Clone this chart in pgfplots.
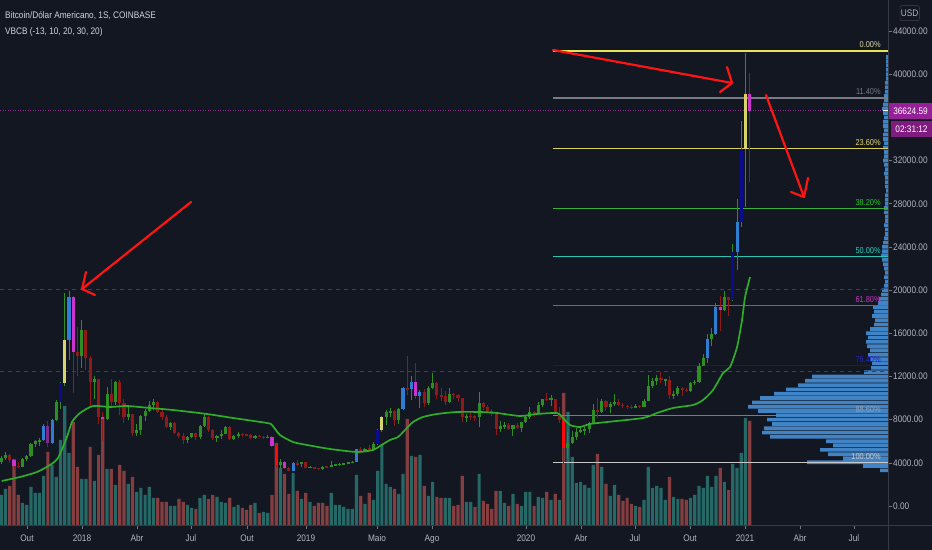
\documentclass[border=0pt]{standalone}
\usepackage{pgfplots}
\pgfplotsset{compat=1.18}
\usepackage{pgfplotstable}
\usepackage{fontspec}
\setmainfont{Liberation Sans}[FakeStretch=0.87]
\definecolor{bg}{HTML}{131722}
\definecolor{lbl}{HTML}{B2B5BE}
\definecolor{ttl}{HTML}{D1D4DC}
\definecolor{axln}{HTML}{363A45}
\definecolor{cgreen}{HTML}{2E8E24}
\definecolor{cred}{HTML}{901A1A}
\definecolor{cblue}{HTML}{2E7DD2}
\definecolor{cnavy}{HTML}{0B0B90}
\definecolor{cyellow}{HTML}{D8D36A}
\definecolor{cmag}{HTML}{CC33CC}
\definecolor{cbright}{HTML}{FF0A0A}
\definecolor{cpurple}{HTML}{7E2A8C}
\definecolor{volup}{HTML}{256866}
\definecolor{voldn}{HTML}{843E40}
\definecolor{magreen}{HTML}{2EAE28}
\definecolor{prof}{HTML}{4084C6}
\definecolor{pbox}{HTML}{962096}
\newcommand{\tf}{\fontsize{9.5bp}{11bp}\selectfont}
\newcommand{\ff}{\fontsize{8.5bp}{10bp}\selectfont}

\pgfplotstableread{
w O H L C k
-19 4050 4600 3900 4450 1
-18 4450 4980 4250 4700 1
-17 4700 4800 4000 4250 2
-16 4250 4400 3300 3720 6
-15 3720 4100 3500 3620 2
-14 3620 4450 3600 4350 1
-13 4350 4700 4150 4600 1
-12 4600 5850 4550 5700 1
-11 5700 6150 5450 5990 1
-10 5990 6300 5600 6140 1
-9 6140 7600 6050 7400 3
-8 7400 7900 5500 5880 8
-7 5880 8100 5700 8000 3
-6 8000 9800 7900 9600 1
-5 9600 11450 9000 11350 4
-4 11350 19700 11100 15400 5
-3 15400 19900 13500 19400 3
-2 19400 19450 10450 14250 6
-1 14250 16550 12000 13900 2
0 13900 17230 12800 16300 1
1 16300 16300 12600 13700 2
2 13700 13900 9200 11500 2
3 11500 12000 9950 11800 1
4 11800 11800 7600 8200 2
5 8200 8700 6000 8100 6
6 8100 11000 8000 10400 1
7 10400 11800 9300 9600 2
8 9600 11600 9400 11500 1
9 11500 11700 8400 9500 2
10 9500 9900 7700 8200 2
11 8200 9200 7950 8500 1
12 8500 8500 6500 6800 2
13 6800 7600 6450 7000 1
14 7000 8400 6600 8300 1
15 8300 9000 7900 8800 1
16 8800 9750 8700 9400 1
17 9400 9900 8900 9650 1
18 9650 9700 8600 8700 2
19 8700 8900 7950 8200 2
20 8200 8400 7250 7350 2
21 7350 7800 7050 7700 1
22 7700 7800 6650 6780 2
23 6780 6850 6300 6450 2
24 6450 6800 5750 6150 2
25 6150 6500 5800 6400 1
26 6400 6800 6300 6750 1
27 6750 6800 6100 6350 2
28 6350 7500 6250 7400 1
29 7400 8500 7300 8200 1
30 8200 8300 6900 7000 2
31 7000 7150 6100 6300 2
32 6300 6600 5900 6500 1
33 6500 7000 6200 6700 1
34 6700 7400 6650 7300 1
35 7300 7400 6100 6250 2
36 6250 6600 6150 6500 1
37 6500 6850 6300 6700 1
38 6700 6800 6400 6600 2
39 6600 6700 6450 6550 2
40 6550 6650 6200 6300 2
41 6300 6600 6250 6500 1
42 6500 6550 6350 6400 2
43 6400 6480 6250 6350 2
44 6350 6550 6300 6400 1
45 6400 6500 5500 5600 6
46 5600 5650 3600 3800 7
47 3800 4400 3550 4100 1
48 4100 4150 3450 3500 6
49 3500 3600 3200 3250 2
50 3250 4100 3200 4000 3
51 4000 4250 3700 3850 2
52 3850 4100 3650 4050 1
53 4050 4100 3500 3550 2
54 3550 3750 3520 3600 1
55 3600 3650 3450 3530 2
56 3530 3560 3350 3420 2
57 3420 3700 3380 3650 1
58 3650 3700 3550 3600 2
59 3600 4200 3600 3800 1
60 3800 3900 3700 3850 1
61 3850 3950 3700 3900 1
62 3900 4000 3850 3950 1
63 3950 4050 3900 4000 1
64 4000 4150 3950 4100 1
65 4100 5300 4050 5250 3
66 5250 5450 4950 5100 2
67 5100 5350 5050 5300 1
68 5300 5650 5150 5250 2
69 5250 5900 5200 5750 1
70 5750 7100 5650 7050 4
71 7050 8300 6850 8200 5
72 8200 8900 7500 8700 1
73 8700 9100 8250 8800 1
74 8800 8900 7450 7950 2
75 7950 9100 7550 8950 1
76 8950 11000 8900 10900 3
77 10900 13900 10300 10800 2
78 10800 12000 9800 11500 3
79 11500 13250 9900 10150 6
80 10150 10700 9100 10600 3
81 10600 10800 9200 9500 2
82 9500 11100 9400 10950 1
83 10950 12350 10800 11400 1
84 11400 11450 9950 10300 2
85 10300 10900 9750 10150 2
86 10150 10650 9350 9600 2
87 9600 10900 9550 10400 1
88 10400 10450 9950 10300 2
89 10300 10350 9600 10000 2
90 10000 10050 7750 8200 2
91 8200 8500 7800 8350 1
92 8350 8800 8000 8300 2
93 8300 8400 7900 8200 2
94 8200 10550 7350 9550 1
95 9550 9600 8900 9200 2
96 9200 9350 8700 8800 2
97 8800 9000 8350 8500 2
98 8500 8550 6550 7100 2
99 7100 7850 6850 7400 1
100 7400 7750 7150 7500 1
101 7500 7650 7050 7100 2
102 7100 7500 6450 7500 1
103 7500 7700 7100 7250 2
104 7250 7800 6850 7750 1
105 7750 8450 7700 8200 1
106 8200 9200 8050 8700 1
107 8700 8800 8250 8600 2
108 8600 9600 8500 9350 1
109 9350 9950 9150 9900 1
110 9900 10500 9700 9880 2
111 9880 10250 9300 9950 1
112 9950 9950 8500 8550 2
113 8550 9200 7650 8000 2
114 8000 8200 3850 5400 7
115 5400 6900 4450 5850 1
116 5850 6950 5700 6400 1
117 6400 7200 6150 6900 1
118 6900 7450 6800 7050 1
119 7050 7300 6550 7100 1
120 7100 7750 6800 7700 1
121 7700 9450 7600 8900 1
122 8900 10050 8150 8700 2
123 8700 9900 8600 9700 1
124 9700 9850 8800 9200 2
125 9200 9600 8650 9450 1
126 9450 10400 9300 9650 1
127 9650 9950 9250 9350 2
128 9350 9550 9050 9300 2
129 9300 9400 8950 9150 2
130 9150 9350 8950 9100 2
131 9100 9450 9050 9300 1
132 9300 9350 9050 9200 2
133 9200 9950 9150 9700 1
134 9700 12100 9700 11100 1
135 11100 11900 10950 11600 1
136 11600 12100 11200 11850 1
137 11850 12450 11350 11650 2
138 11650 11800 11100 11700 1
139 11700 12050 9900 10300 2
140 10300 10650 9900 10350 1
141 10350 11150 10200 10950 1
142 10950 11000 10150 10750 2
143 10750 10950 10550 10650 2
144 10650 11500 10550 11400 1
145 11400 11700 11200 11500 1
146 11500 13250 11400 13000 1
147 13000 14100 12950 13750 1
148 13750 15950 13250 15500 3
149 15500 16450 14850 15950 1
150 15950 18800 15800 18400 3
151 18400 19450 16200 18200 6
152 18200 19900 18100 19350 1
153 19350 19400 17600 19100 2
154 19100 24250 18950 23500 4
155 23500 28400 21850 26300 3
156 26300 35700 25800 33100 4
157 33100 42000 27700 38200 5
158 38200 40150 30050 36625 6
}\candles

\pgfplotstableread{
w v
-19 30
-18 36
-14 22
-13 20
-12 38
-11 32
-10 32
-9 49
-7 60
-6 48
-5 85
-4 119
-3 72
0 46
1 46
3 44
6 56
8 40
11 41
13 33
14 37
15 30
16 38
17 27
21 19
22 19
25 20
26 17
28 27
29 30
32 28
33 23
34 22
36 18
37 20
41 22
43 13
44 12
47 57
50 52
52 26
54 23
59 32
60 20
61 20
62 18
63 16
64 16
65 50
67 21
69 25
70 54
71 80
72 41
73 38
75 31
76 51
78 69
80 70
82 29
83 43
86 27
87 27
91 23
92 23
94 51
99 34
100 22
102 31
104 19
105 33
106 33
108 28
109 27
111 25
113 25
115 113
116 68
117 42
118 43
119 40
120 37
121 60
123 58
125 29
126 40
131 19
133 25
134 58
135 37
136 39
137 37
138 25
140 28
141 26
144 27
145 30
146 39
147 37
148 49
149 38
150 49
152 43
154 61
155 57
156 72
157 107
}\volup

\pgfplotstableread{
w v
-17 39
-16 66
-15 30
-8 73
-2 103
-1 58
2 78
4 70
5 108
7 56
9 60
10 54
12 48
18 27
19 23
20 23
23 26
24 23
27 16
30 26
31 30
35 27
38 17
39 15
40 20
42 12
45 30
46 82
48 51
49 31
51 34
53 32
55 19
56 22
57 22
58 19
66 29
68 32
74 36
77 106
79 68
81 39
84 28
85 27
88 19
89 20
90 49
93 18
95 24
96 21
97 16
98 34
101 19
103 21
107 19
110 33
112 31
114 132
122 71
124 41
127 30
128 24
129 27
130 21
132 18
139 48
142 26
143 25
151 57
153 35
158 104
}\voldn

\pgfplotstableread{
w p
-18.92 2316
-14.59 2686
-10.57 3150
-7.50 3798
-5.61 4447
-3.48 6392
-2.29 7781
-0.40 8615
2.67 9263
6.69 9171
10.71 9263
16.15 9078
21.59 8893
29.63 8523
35.79 8152
43.83 7689
45.01 7503
46.90 6577
49.98 5929
53.29 5651
58.73 5280
65.11 5002
68.90 5188
70.55 5558
72.92 6114
74.81 6392
76.47 7040
78.36 7781
80.72 8245
84.04 8523
88.77 8708
94.21 8708
98.23 8615
103.67 8337
107.69 8523
112.42 8615
113.60 8245
115.49 7503
117.86 7318
120.22 7596
124.24 7781
132.76 8152
136.07 8615
139.86 9078
144.59 9356
146.95 9819
149.32 10746
151.69 12320
153.34 12876
155.00 14729
156.18 17230
156.89 19361
158.07 21214
}\ma

\pgfplotstableread{
v p
8 3300
25 3700
81 4050
45 4400
60 4800
68 5200
55 5600
62 6000
118 6400
126 6800
124 7200
116 7600
121 8000
112 8400
130 8800
140 9200
136 9600
128 10000
114 10400
102 10800
90 11200
83 11600
76 12000
24 12400
17 12800
16 13200
18 13600
20 14000
18 14400
21 14800
22 15200
20 15600
22 16000
18 16400
14 16800
13 17200
16 17600
14 18000
15 18400
10 18800
9 19200
7 19600
6 20000
4 20400
3 20800
4 21200
3 21600
4 22000
5 22400
6 22800
7 23200
6 23600
6 24000
5 24400
4 24800
3 25200
3 25600
4 26000
3 26400
3 26800
4 27200
4 27600
3 28000
3 28400
3 28800
2 29200
3 29600
3 30000
3 30400
4 30800
3 31200
4 31600
5 32000
4 32400
4 32800
5 33200
4 33600
5 34000
5 34400
4 34800
5 35200
5 35600
4 36000
5 36400
6 36800
5 37200
4 37600
4 38000
3 38400
3 38800
3 39200
2 39600
2 40000
2 40400
2 40800
2 41200
2 41600
}\profile

\pgfplotsset{
  hidden/.style={at={(0bp,25bp)}, anchor=south west, scale only axis,
    width=888bp, height=525bp, axis lines=none, xtick=\empty, ytick=\empty,
    scaled ticks=false},
  body/.style 2 args={draw=none, mark=none, forget plot,
    restrict expr to domain={\thisrow{k}}{#1:#1},
    error bars/y dir=both, error bars/y explicit, error bars/error mark=none,
    error bars/error bar style={draw=#2, solid, line width=3.1bp}},
  wick/.style={draw=none, mark=none, forget plot,
    error bars/y dir=both, error bars/y explicit, error bars/error mark=none,
    error bars/error bar style={draw=#1, solid, line width=1bp}},
}

\begin{document}
\begin{tikzpicture}
\useasboundingbox (0,0) rectangle (932bp,550bp);
\fill[bg] (0,0) rectangle (932bp,550bp);

% volume
\begin{axis}[hidden, xmin=-19.32, xmax=190.7, ymin=0, ymax=525]
\addplot[ybar, bar width=3.2bp, bar shift=0pt, fill=volup, draw=none] table[x=w,y=v]{\volup};
\addplot[ybar, bar width=3.2bp, bar shift=0pt, fill=voldn, draw=none] table[x=w,y=v]{\voldn};
\end{axis}

% volume profile
\begin{axis}[hidden, x dir=reverse, xmin=0, xmax=888, ymin=-1760, ymax=46873]
\addplot[xbar, bar width=340, bar shift=0pt, fill=prof, draw=none] table[x=v,y=p]{\profile};
\end{axis}

% price
\begin{axis}[at={(0bp,25bp)}, anchor=south west, scale only axis,
  width=888bp, height=525bp,
  xmin=-19.32, xmax=190.7, ymin=-1760, ymax=46873,
  scaled ticks=false,
  axis x line*=bottom, axis y line*=right,
  axis line style={draw=axln, line width=0.8bp},
  tick align=outside, major tick length=4bp,
  tick style={draw=lbl!60!bg, line width=0.6bp},
  ytick={0,4000,8000,12000,16000,20000,24000,28000,32000,36000,40000,44000},
  yticklabels={0.00,4000.00,8000.00,12000.00,16000.00,20000.00,24000.00,28000.00,32000.00,{},40000.00,44000.00},
  xtick={-12.94,0.07,13.08,25.85,39.09,53.05,69.84,82.85,105.08,118.09,130.86,143.87,156.88,169.88,182.65},
  xticklabels={Out,2018,Abr,Jul,Out,2019,Maio,Ago,2020,Abr,Jul,Out,2021,Abr,Jul},
  ticklabel style={text=lbl, font=\tf},
  yticklabel style={anchor=west, inner sep=0pt, xshift=1bp},
  xticklabel style={anchor=base, inner sep=0pt, yshift=-12bp},
]
% horizontal reference lines
\addplot[draw=red!85!black, line width=0.9bp, dash pattern=on 4bp off 4bp] coordinates {(-19.32,20070) (190.7,20070)};
\addplot[draw=red!85!black, line width=0.9bp, dash pattern=on 4bp off 4bp] coordinates {(-19.32,12506) (190.7,12506)};
\addplot[draw=cmag!70!black, line width=0.8bp, dash pattern=on 1bp off 1.5bp] coordinates {(-19.32,36625) (190.7,36625)};
% fibonacci levels
\addplot[draw={rgb,255:red,232;green,228;blue,90}, line width=1.2bp] coordinates {(111.5,42150) (190.7,42150)};
\addplot[draw={rgb,255:red,120;green,123;blue,134}, line width=1.2bp] coordinates {(111.5,37802) (190.7,37802)};
\addplot[draw={rgb,255:red,216;green,208;blue,96}, line width=1.2bp] coordinates {(111.5,33149) (190.7,33149)};
\addplot[draw={rgb,255:red,58;green,176;blue,58}, line width=1.2bp] coordinates {(111.5,27580) (190.7,27580)};
\addplot[draw={rgb,255:red,38;green,198;blue,186}, line width=1.2bp] coordinates {(111.5,23080) (190.7,23080)};
\addplot[draw={rgb,255:red,196;green,44;blue,196}, line width=1.2bp] coordinates {(111.5,18580) (190.7,18580)};
\addplot[draw={rgb,255:red,18;green,18;blue,160}, line width=1.2bp] coordinates {(111.5,13010) (190.7,13010)};
\addplot[draw={rgb,255:red,120;green,123;blue,134}, line width=1.2bp] coordinates {(111.5,8357) (190.7,8357)};
\addplot[draw={rgb,255:red,200;green,200;blue,200}, line width=1.2bp] coordinates {(111.5,4010) (190.7,4010)};
% wicks
\addplot[restrict expr to domain={\thisrow{C}-\thisrow{O}}{0:1000000}, wick=cgreen]
  table[x=w, y expr={(\thisrow{H}+\thisrow{L})/2}, y error expr={(\thisrow{H}-\thisrow{L})/2}]{\candles};
\addplot[restrict expr to domain={\thisrow{C}-\thisrow{O}}{-1000000:-0.5}, wick=cred]
  table[x=w, y expr={(\thisrow{H}+\thisrow{L})/2}, y error expr={(\thisrow{H}-\thisrow{L})/2}]{\candles};
% bodies
\addplot[body={1}{cgreen}] table[x=w, y expr={(\thisrow{O}+\thisrow{C})/2}, y error expr={max(abs(\thisrow{C}-\thisrow{O})/2,55)}]{\candles};
\addplot[body={2}{cred}] table[x=w, y expr={(\thisrow{O}+\thisrow{C})/2}, y error expr={max(abs(\thisrow{C}-\thisrow{O})/2,55)}]{\candles};
\addplot[body={3}{cblue}] table[x=w, y expr={(\thisrow{O}+\thisrow{C})/2}, y error expr={max(abs(\thisrow{C}-\thisrow{O})/2,55)}]{\candles};
\addplot[body={4}{cnavy}] table[x=w, y expr={(\thisrow{O}+\thisrow{C})/2}, y error expr={max(abs(\thisrow{C}-\thisrow{O})/2,55)}]{\candles};
\addplot[body={5}{cyellow}] table[x=w, y expr={(\thisrow{O}+\thisrow{C})/2}, y error expr={max(abs(\thisrow{C}-\thisrow{O})/2,55)}]{\candles};
\addplot[body={6}{cmag}] table[x=w, y expr={(\thisrow{O}+\thisrow{C})/2}, y error expr={max(abs(\thisrow{C}-\thisrow{O})/2,55)}]{\candles};
\addplot[body={7}{cbright}] table[x=w, y expr={(\thisrow{O}+\thisrow{C})/2}, y error expr={max(abs(\thisrow{C}-\thisrow{O})/2,55)}]{\candles};
\addplot[body={8}{cpurple}] table[x=w, y expr={(\thisrow{O}+\thisrow{C})/2}, y error expr={max(abs(\thisrow{C}-\thisrow{O})/2,55)}]{\candles};
% moving average
\addplot[draw=magreen, line width=1.7bp, smooth, tension=0.4] table[x=w,y=p]{\ma};
% fib labels
\node[anchor=base east, font=\ff, text={rgb,255:red,221;green,216;blue,168}, yshift=3bp] at (axis cs:189.8,42150) {0.00\%};
\node[anchor=base east, font=\ff, text={rgb,255:red,120;green,123;blue,134}, yshift=3bp] at (axis cs:189.8,37802) {11.40\%};
\node[anchor=base east, font=\ff, text={rgb,255:red,230;green,220;blue,110}, yshift=3bp] at (axis cs:189.8,33149) {23.60\%};
\node[anchor=base east, font=\ff, text={rgb,255:red,40;green,200;blue,40}, yshift=3bp] at (axis cs:189.8,27580) {38.20\%};
\node[anchor=base east, font=\ff, text={rgb,255:red,38;green,208;blue,192}, yshift=3bp] at (axis cs:189.8,23080) {50.00\%};
\node[anchor=base east, font=\ff, text={rgb,255:red,204;green,51;blue,204}, yshift=3bp] at (axis cs:189.8,18580) {61.80\%};
\node[anchor=base east, font=\ff, text={rgb,255:red,36;green,36;blue,200}, yshift=3bp] at (axis cs:189.8,13010) {76.40\%};
\node[anchor=base east, font=\ff, text={rgb,255:red,138;green,166;blue,196}, yshift=3bp] at (axis cs:189.8,8357) {88.60\%};
\node[anchor=base east, font=\ff, text={rgb,255:red,200;green,204;blue,212}, yshift=3bp] at (axis cs:189.8,4010) {100.00\%};
\end{axis}

% separators
\draw[axln, line width=0.8bp] (888bp,0) -- (888bp,550bp);
\draw[axln, line width=0.8bp] (0,25bp) -- (932bp,25bp);

% annotations: red arrows
\begin{scope}[draw={rgb,255:red,255;green,20;blue,20}, line width=2.2bp, line cap=round, line join=round]
\draw (191bp,348bp) -- (82bp,261bp);
\draw (86bp,278bp) -- (82bp,261bp) -- (95bp,255bp);
\draw (553bp,500bp) -- (732bp,467bp);
\draw (727bp,483bp) -- (732bp,467bp) -- (720bp,458bp);
\draw (766bp,455bp) -- (804bp,353bp);
\draw (808bp,372bp) -- (804bp,353bp) -- (791bp,358bp);
\end{scope}

% price tags
\fill[pbox] (889bp,431bp) rectangle (932bp,447bp);
\node[text=white, font=\tf, inner sep=0pt] at (910.5bp,439bp) {36624.59};
\fill[pbox!85!black] (891bp,413bp) rectangle (932bp,429bp);
\node[text=white, font=\tf, inner sep=0pt] at (911.5bp,421bp) {02:31:12};
\draw[white, line width=1bp] (883bp,439bp) -- (888bp,439bp);

% USD box
\node[draw={rgb,255:red,67;green,70;blue,81}, rounded corners=2bp, text=lbl, font=\tf,
  minimum width=18bp, minimum height=15bp, inner sep=1bp] at (909.7bp,536.8bp) {USD};

% title
\node[anchor=base west, text=ttl, font=\tf, inner sep=0pt] at (5bp,531bp) {Bitcoin/Dólar Americano, 1S, COINBASE};
\node[anchor=base west, text=ttl, font=\tf, inner sep=0pt] at (5bp,515bp) {VBCB (-13, 10, 20, 30, 20)};
\end{tikzpicture}
\end{document}
